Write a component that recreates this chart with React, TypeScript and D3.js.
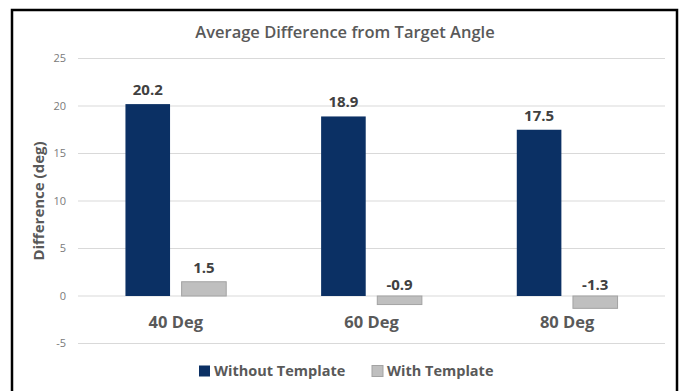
import React from "react";
import * as d3 from "d3";

const categories = ["40 Deg", "60 Deg", "80 Deg"];
const seriesNames = ["Without Template", "With Template"];
const withoutTemplate = [20.2, 18.9, 17.5];
const withTemplate = [1.5, -0.9, -1.3];
const yTicks = [-5, 0, 5, 10, 15, 20, 25];

const W = 681;
const H = 391;
const FONT = "'Open Sans', 'Liberation Sans', sans-serif";
const COLORS = ["#0B3064", "#BFBFBF"];
const STROKES = ["#0B3064", "#A3A3A3"];

export default function App() {
  const plotLeft = 78;
  const plotRight = 665;

  const y = d3.scaleLinear().domain([-5, 25]).range([343.5, 58.5]);
  const x0 = d3
    .scaleBand<string>()
    .domain(categories)
    .range([plotLeft, plotRight])
    .paddingInner(0.485)
    .paddingOuter(0.2425);
  const x1 = d3
    .scaleBand<string>()
    .domain(seriesNames)
    .range([0, x0.bandwidth()])
    .paddingInner(0.206)
    .paddingOuter(0);

  const series = [withoutTemplate, withTemplate];
  const fmt = (v: number) => v.toFixed(1);

  return (
    <svg
      width={W}
      height={H}
      style={{ position: "absolute", left: 0, top: 0, background: "#fff" }}
      fontFamily={FONT}
    >
      <rect x={0} y={0} width={W} height={H} fill="#fff" />
      <rect x={12} y={10} width={665} height={400} fill="none" stroke="#000" strokeWidth={2.5} />

      <text x={345} y={38} textAnchor="middle" fontSize={16.5} fontWeight={600} fill="#595959">
        Average Difference from Target Angle
      </text>

      {yTicks.map((t) => (
        <g key={t}>
          <line x1={plotLeft} x2={plotRight} y1={y(t)} y2={y(t)} stroke="#D9D9D9" strokeWidth={1.2} />
          <text x={66} y={y(t)} dy="0.35em" textAnchor="end" fontSize={11} fill="#7A7A7A">
            {t}
          </text>
        </g>
      ))}

      <text
        transform={`translate(44,201) rotate(-90)`}
        textAnchor="middle"
        fontSize={15}
        fontWeight={700}
        fill="#595959"
      >
        Difference (deg)
      </text>

      {categories.map((c, i) => (
        <g key={c} transform={`translate(${x0(c)},0)`}>
          {seriesNames.map((s, j) => {
            const v = series[j][i];
            const top = Math.min(y(v), y(0));
            const h = Math.abs(y(v) - y(0));
            const labelY = v >= 0 ? y(v) - 9 : y(0) - 6;
            return (
              <g key={s}>
                <rect
                  x={x1(s)}
                  y={top}
                  width={x1.bandwidth()}
                  height={h}
                  fill={COLORS[j]}
                  stroke={STROKES[j]}
                  strokeWidth={j === 1 ? 1 : 0}
                />
                <text
                  x={(x1(s) as number) + x1.bandwidth() / 2}
                  y={labelY}
                  textAnchor="middle"
                  fontSize={15}
                  fontWeight={700}
                  fill="#404040"
                >
                  {fmt(v)}
                </text>
              </g>
            );
          })}
          <text
            x={x0.bandwidth() / 2}
            y={328}
            textAnchor="middle"
            fontSize={16.5}
            fontWeight={700}
            fill="#595959"
          >
            {c}
          </text>
        </g>
      ))}

      {seriesNames.map((s, j) => {
        const lx = j === 0 ? 199 : 372;
        return (
          <g key={s} transform={`translate(${lx},371)`}>
            <rect x={0} y={-5.5} width={11} height={11} fill={COLORS[j]} stroke={STROKES[j]} strokeWidth={j === 1 ? 1 : 0} />
            <text x={15} y={0} dy="0.35em" fontSize={14.5} fontWeight={700} fill="#595959">
              {s}
            </text>
          </g>
        );
      })}
    </svg>
  );
}
